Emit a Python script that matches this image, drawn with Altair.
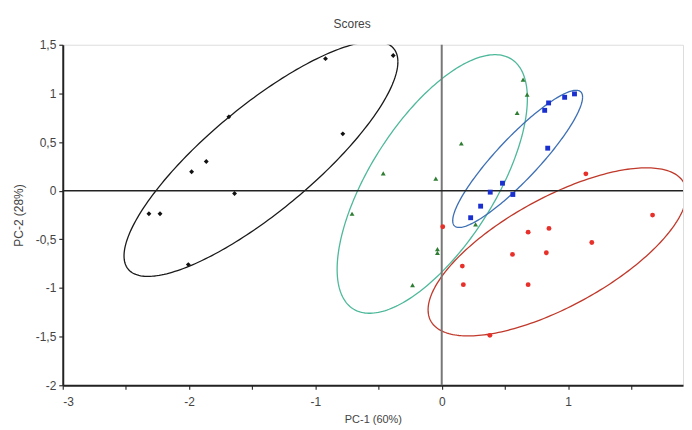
import altair as alt
import numpy as np
import pandas as pd

# ---- data ----
groups = ["black", "green", "blue", "red"]

black_x = [-0.92, -0.384, -1.685, -0.783, -1.864, -1.98, -1.64, -2.318, -2.23, -2.006]
black_y = [1.357, 1.39, 0.759, 0.584, 0.30, 0.194, -0.029, -0.237, -0.237, -0.76]
green_x = [0.644, 0.676, 0.597, 0.155, -0.463, -0.047, -0.71, -0.034, -0.034, -0.231, 0.268]
green_y = [1.142, 0.988, 0.80, 0.485, 0.177, 0.125, -0.237, -0.60, -0.64, -0.97, -0.347]
blue_x = [1.051, 0.973, 0.846, 0.815, 0.839, 0.481, 0.384, 0.563, 0.308, 0.229]
blue_y = [0.995, 0.96, 0.902, 0.826, 0.437, 0.077, -0.015, -0.039, -0.159, -0.278]
red_x = [1.141, 1.669, 0.008, 0.684, 0.849, 1.188, 0.56, 0.828, 0.163, 0.171, 0.684, 0.381]
red_y = [0.173, -0.251, -0.371, -0.426, -0.388, -0.532, -0.655, -0.638, -0.775, -0.966, -0.966, -1.487]

# confidence ellipses: centre, half-ranges and phase (x = cx + a cos t, y = cy + b cos(t - phi))
ell_cx = [-1.431, -0.075, 0.601, 0.915]
ell_cy = [0.327, 0.069, 0.327, -0.629]
ell_a = [1.084, 0.753, 0.514, 1.023]
ell_b = [1.208, 1.329, 0.705, 0.864]
ell_phi = [0.60, 0.85, 0.45, 0.81]

point_colors = ["#111111", "#2e7d32", "#1a2fd0", "#e8302a"]
ellipse_colors = ["#1a1a1a", "#4db89a", "#3d6fb5", "#c0392b"]
shapes = ["diamond", "triangle-up", "square", "circle"]
sizes = [24, 24, 40, 32]

X_MIN, X_MAX = -3.0, 1.91
Y_MIN, Y_MAX = -2.0, 1.5

# ---- tables ----
xs = [black_x, green_x, blue_x, red_x]
ys = [black_y, green_y, blue_y, red_y]
pts = pd.concat(
    [pd.DataFrame({"x": xx, "y": yy, "g": g}) for g, xx, yy in zip(groups, xs, ys)],
    ignore_index=True,
)

t = np.linspace(0, 2 * np.pi, 241)
ell_frames = []
for g, cx, cy, a, b, ph in zip(groups, ell_cx, ell_cy, ell_a, ell_b, ell_phi):
    ell_frames.append(pd.DataFrame({
        "x": cx + a * np.cos(t),
        "y": cy + b * np.cos(t - ph),
        "g": g,
        "i": np.arange(len(t)),
    }))
ell = pd.concat(ell_frames, ignore_index=True)

font = "Liberation Sans"

x_scale = alt.Scale(domain=[X_MIN, X_MAX], nice=False, zero=False)
y_scale = alt.Scale(domain=[Y_MIN, Y_MAX], nice=False, zero=False)

lab = "(datum.value < 0 ? '-' : '') + replace(format(abs(datum.value), '~g'), '.', ',')"

x_axis = alt.Axis(
    title="PC-1 (60%)",
    values=[v / 2 for v in range(-6, 4)],
    labelExpr=f"abs(datum.value % 1) < 1e-6 ? {lab} : ''",
    grid=False, domainColor="#222", domainWidth=2, tickColor="#333", tickWidth=1.2,
    tickSize=4, labelPadding=7, labelFontSize=12, labelColor="#444", labelFont=font,
    titleFont=font, titleFontSize=11, titleFontWeight="normal", titleColor="#444",
    titlePadding=6,
)
y_axis = alt.Axis(
    title="PC-2 (28%)",
    values=[v / 4 for v in range(-8, 7)],
    labelExpr=f"abs((datum.value * 2) % 1) < 1e-6 ? {lab} : ''",
    grid=False, domainColor="#222", domainWidth=2, tickColor="#333", tickWidth=1.2,
    tickSize=4, labelPadding=3, labelFontSize=12, labelColor="#444", labelFont=font,
    titleFont=font, titleFontSize=12, titleFontWeight="normal", titleColor="#444",
    titleAngle=-90, titleX=-44, titleAlign="center", titleBaseline="middle",
)

color_scale_pts = alt.Scale(domain=groups, range=point_colors)
color_scale_ell = alt.Scale(domain=groups, range=ellipse_colors)

ellipses = alt.Chart(ell).mark_line(strokeWidth=1.3, clip=True).encode(
    x=alt.X("x:Q", scale=x_scale, axis=x_axis),
    y=alt.Y("y:Q", scale=y_scale, axis=y_axis),
    detail="g:N",
    order="i:Q",
    color=alt.Color("g:N", scale=color_scale_ell, legend=None),
)

vline = alt.Chart(pd.DataFrame({"x": [0.0], "y": [Y_MIN], "y2": [Y_MAX]})).mark_rule(
    color="#777", strokeWidth=2
).encode(x="x:Q", y="y:Q", y2="y2:Q")

hline = alt.Chart(pd.DataFrame({"y": [0.0], "x": [X_MIN], "x2": [X_MAX]})).mark_rule(
    color="#222", strokeWidth=1.5
).encode(y="y:Q", x="x:Q", x2="x2:Q")

points = alt.Chart(pts).mark_point(filled=True, opacity=1).encode(
    x="x:Q",
    y="y:Q",
    color=alt.Color("g:N", scale=color_scale_pts, legend=None),
    shape=alt.Shape("g:N", scale=alt.Scale(domain=groups, range=shapes), legend=None),
    size=alt.Size("g:N", scale=alt.Scale(domain=groups, range=sizes), legend=None),
)

chart = alt.layer(ellipses, vline, hline, points).resolve_scale(
    color="independent"
).properties(
    width=623,
    height=342,
    padding={"left": 5, "top": 9, "right": 0, "bottom": 0},
    title=alt.TitleParams(
        "Scores", font=font, fontSize=12, fontWeight="normal", color="#444",
        anchor="start", dx=322, offset=8,
    ),
).configure_view(stroke=None).configure(background="white")

chart.save("out.html", embed_options={"renderer": "svg", "actions": False})
